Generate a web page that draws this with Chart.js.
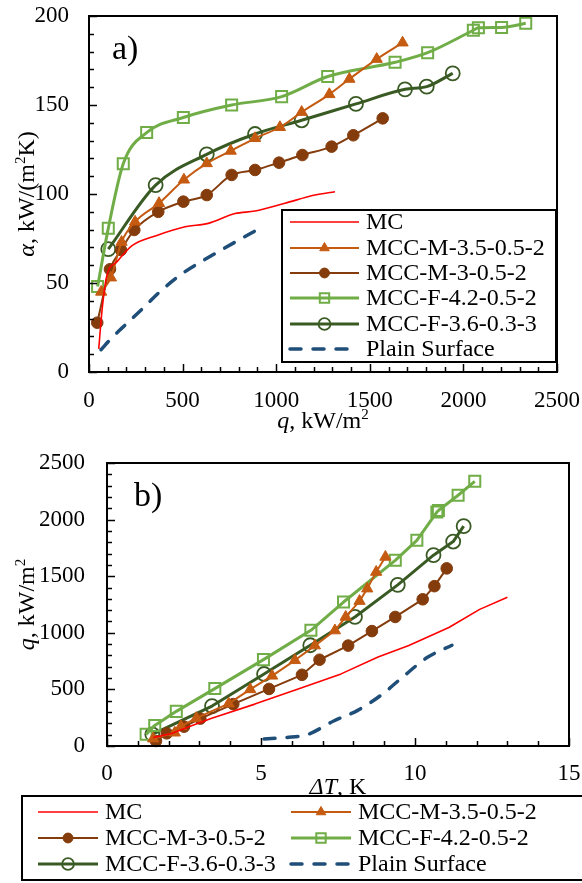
<!DOCTYPE html>
<html><head><meta charset="utf-8">
<script src="https://cdn.jsdelivr.net/npm/chart.js@4.4.1/dist/chart.umd.min.js"></script>
<style>
html,body{margin:0;padding:0;background:#fff;}
#wrap{position:relative;width:582px;height:883px;overflow:hidden;background:#fff;}
.box{position:absolute;left:0;width:582px;}
</style></head><body>
<div id="wrap">
<div class="box" style="top:0;height:440px"><canvas id="ca" width="582" height="440"></canvas></div>
<div class="box" style="top:440px;height:443px"><canvas id="cb" width="582" height="443"></canvas></div>
</div>
<script>
// ---------- series names ----------
const seriesNames = ['MC','MCC-M-3.5-0.5-2','MCC-M-3-0.5-2','MCC-F-4.2-0.5-2','MCC-F-3.6-0.3-3','Plain Surface'];

// ---------- chart a) : alpha [kW/(m2K)] vs q [kW/m2] ----------
const aTicksX = [0,500,1000,1500,2000,2500];
const aTicksY = [0,50,100,150,200];
const mcA_q      = [52,70,95,150,230,370,513,637,780,887,1047,1207,1314];
const mcA_alpha  = [13,35,54,62,71,77,81.6,83.5,89,90.4,94.8,99.4,101.3];
const m35A_q     = [65,117,174,246,374,507,629,757,887,1020,1136,1284,1391,1537,1675];
const m35A_alpha = [45,53,73,84.4,94.8,108,117.2,124.2,131.3,137.5,146,156,164.6,175.8,185];
const m3A_q      = [44,112,171,242,370,504,629,762,887,1015,1140,1296,1412,1569];
const m3A_alpha  = [27.7,57.7,68.5,79.8,90,95.7,99.4,110.7,113.5,117.6,121.9,126.6,133,142.5];
const f42A_q     = [46,103,183,308,504,762,1029,1275,1635,1809,2053,2080,2204,2333];
const f42A_alpha = [48,80.7,117,134.5,143,150,154.7,166,174,179.4,192,193.4,193.6,195.9];
const f36A_q     = [103,356,629,887,1136,1426,1688,1804,1943];
const f36A_alpha = [69,105,122.3,133.7,141.4,150.6,158.8,160.3,167.8];
const plainA_q     = [64,120,174,280,388,513,600,691,815,890];
const plainA_alpha = [12.5,19,24.5,35,46,56.4,62,67.6,75,79.4];

// ---------- chart b) : q [kW/m2] vs dT [K] ----------
const bTicksX = [0,5,10,15];
const bTicksY = [0,500,1000,1500,2000,2500];
const mcB_dT    = [1.5,2.1,2.7,3.4,4.8,6.3,7.6,8.8,9.8,11.1,12.1,13.0];
const mcB_q     = [75,110,175,246,370,513,637,786,887,1047,1207,1314];
const m35B_dT   = [1.5,2.2,2.4,2.9,3.95,4.65,5.36,6.1,6.75,7.4,7.75,8.2,8.45,8.74,9.04];
const m35B_q    = [65,117,174,246,374,500,620,757,887,1020,1140,1280,1390,1537,1670];
const m3B_dT    = [1.59,1.94,2.5,3.03,4.1,5.26,6.33,6.9,7.83,8.6,9.36,10.25,10.63,11.03];
const m3B_q     = [44,112,171,242,370,504,629,762,887,1015,1140,1296,1412,1569];
const f42B_dT   = [1.27,1.55,2.25,3.5,5.08,6.62,7.68,9.36,10.06,10.71,10.76,11.4,11.94];
const f42B_q    = [103,182,306,507,763,1022,1272,1640,1817,2067,2080,2215,2338];
const f36B_dT   = [1.47,3.41,5.1,6.6,8.05,9.44,10.6,11.24,11.58];
const f36B_q    = [103,353,636,890,1140,1423,1686,1806,1942];
const plainB_dT = [5.1,5.8,6.5,7.36,8.14,8.93,9.63,10.39,11.2];
const plainB_q  = [62,75,100,221,315,456,616,781,890];

// ---------- styles ----------
const FONT = '"Liberation Serif","Times New Roman",serif';
const styles = [
  {color:'#FF0000', width:1.6, point:'none'},
  {color:'#C55A11', width:2,   point:'triangle', r:6.5, fill:true, bw:1},
  {color:'#843C0C', width:2,   point:'circle',   r:5.8, fill:true, bw:1},
  {color:'#70AD47', width:3,   point:'rect',     r:7.8, fill:false, bw:2},
  {color:'#3A5A24', width:3,   point:'circle',   r:7,   fill:false, bw:1.8},
  {color:'#1F4E79', width:3.5, point:'none', dash:[11,12]}
];

function ds(i, xs, ys, smooth) {
  const s = styles[i];
  return {
    label: seriesNames[i],
    data: xs.map((x,k)=>({x:x, y:ys[k]})),
    borderColor: s.color, backgroundColor: s.color, borderWidth: s.width,
    borderDash: s.dash || [], borderCapStyle: s.dash ? 'round' : 'butt',
    pointStyle: s.point === 'none' ? false : s.point,
    pointRadius: s.point === 'none' ? 0 : s.r,
    pointBackgroundColor: s.fill ? s.color : 'rgba(0,0,0,0)',
    pointBorderColor: s.color,
    pointBorderWidth: s.bw || 1,
    tension: smooth ? 0.4 : 0,
    cubicInterpolationMode: smooth ? 'monotone' : 'default',
    fill: false, clip: false
  };
}

function marker(ctx, s, x, y, scale) {
  if (s.point === 'none') return;
  const r = s.r * (scale || 1);
  ctx.save();
  ctx.beginPath();
  if (s.point === 'circle') ctx.arc(x, y, r, 0, Math.PI*2);
  else if (s.point === 'rect') { const h = r*Math.SQRT1_2; ctx.rect(x-h, y-h, 2*h, 2*h); }
  else if (s.point === 'triangle') {
    const a = 2*Math.PI/3;
    ctx.moveTo(x, y-r);
    ctx.lineTo(x + r*Math.sin(a), y - r*Math.cos(a));
    ctx.lineTo(x - r*Math.sin(a), y - r*Math.cos(a));
    ctx.closePath();
  }
  if (s.fill) { ctx.fillStyle = s.color; ctx.fill(); }
  ctx.strokeStyle = s.color; ctx.lineWidth = s.bw || 1; ctx.stroke();
  ctx.restore();
}

// rich text: segments [{t, it, sup}]
function drawRich(ctx, segs, x, y, size, rotate) {
  ctx.save();
  ctx.translate(x, y);
  if (rotate) ctx.rotate(-Math.PI/2);
  ctx.fillStyle = '#000';
  ctx.textBaseline = 'alphabetic';
  ctx.textAlign = 'left';
  const fonts = segs.map(s => (s.it ? 'italic ' : '') + (s.sup ? Math.round(size*0.62) : size) + 'px ' + FONT);
  let total = 0;
  const widths = segs.map((s,i)=>{ ctx.font = fonts[i]; const w = ctx.measureText(s.t).width; total += w; return w; });
  let cx = -total/2;
  segs.forEach((s,i)=>{
    ctx.font = fonts[i];
    ctx.fillText(s.t, cx, s.sup ? -size*0.38 : 0);
    cx += widths[i];
  });
  ctx.restore();
}

function makeDecor(cfg) {
  return {
    id: 'decor',
    afterDraw(chart) {
      const ctx = chart.ctx, a = chart.chartArea, xs = chart.scales.x, ys = chart.scales.y;
      ctx.save();
      // frame
      ctx.strokeStyle = '#000'; ctx.lineWidth = 2;
      ctx.strokeRect(a.left, a.top, a.right - a.left, a.bottom - a.top);
      // inward ticks
      ctx.lineWidth = 1.5;
      const nx = Math.round((xs.max - xs.min)/cfg.xMinor);
      for (let k = 0; k <= nx; k++) {
        const v = xs.min + k*cfg.xMinor;
        const px = Math.round(xs.getPixelForValue(v)) + 0.5;
        const major = Math.abs(v/cfg.xMajor - Math.round(v/cfg.xMajor)) < 1e-6;
        const len = major ? 8 : 5;
        ctx.beginPath(); ctx.moveTo(px, a.bottom); ctx.lineTo(px, a.bottom - len); ctx.stroke();
      }
      const ny = Math.round((ys.max - ys.min)/cfg.yMinor);
      for (let k = 0; k <= ny; k++) {
        const v = ys.min + k*cfg.yMinor;
        const py = Math.round(ys.getPixelForValue(v)) + 0.5;
        const major = Math.abs(v/cfg.yMajor - Math.round(v/cfg.yMajor)) < 1e-6;
        const len = major ? 8 : 5;
        ctx.beginPath(); ctx.moveTo(a.left, py); ctx.lineTo(a.left + len, py); ctx.stroke();
      }
      // panel label
      ctx.fillStyle = '#000';
      ctx.font = '34px ' + FONT;
      ctx.textBaseline = 'alphabetic'; ctx.textAlign = 'left';
      ctx.fillText(cfg.panel.t, cfg.panel.x, cfg.panel.y);
      // axis titles
      drawRich(ctx, cfg.xTitle, (a.left + a.right)/2 + (cfg.xTitleDx||0), cfg.xTitleY, 24, false);
      drawRich(ctx, cfg.yTitle, cfg.yTitleX, (a.top + a.bottom)/2, 24, true);
      // legend
      const L = cfg.legend;
      ctx.fillStyle = '#fff';
      ctx.fillRect(L.x, L.y, L.w, L.h);
      ctx.strokeStyle = '#000'; ctx.lineWidth = 2;
      ctx.strokeRect(L.x, L.y, L.w, L.h);
      chart.data.datasets.forEach((d, i) => {
        const it = L.items[i], s = styles[i];
        ctx.save();
        ctx.strokeStyle = s.color; ctx.lineWidth = s.width;
        ctx.setLineDash(s.dash || []);
        ctx.lineCap = s.dash ? 'round' : 'butt';
        ctx.beginPath(); ctx.moveTo(it.x, it.y); ctx.lineTo(it.x + L.sw, it.y); ctx.stroke();
        ctx.restore();
        marker(ctx, s, it.x + L.sw/2, it.y, 0.85);
        ctx.fillStyle = '#000';
        ctx.font = L.font + 'px ' + FONT;
        ctx.textBaseline = 'middle'; ctx.textAlign = 'left';
        ctx.fillText(d.label, it.x + L.sw + L.gap, it.y + 1);
      });
      ctx.restore();
    }
  };
}

function zeroPad(s) { s.paddingLeft = 0; s.paddingRight = 0; s.paddingTop = 0; s.paddingBottom = 0; }

function options(c) {
  return {
    responsive: false, animation: false,
    layout: {padding: {top: c.padTop, right: c.padRight, left: 0, bottom: 0}},
    plugins: {legend: {display: false}, tooltip: {enabled: false}, title: {display: false}},
    elements: {line: {borderJoinStyle: 'round'}},
    scales: {
      x: {
        type: 'linear', min: c.xMin, max: c.xMax,
        afterBuildTicks: (s) => { s.ticks = c.xTicks.map(v => ({value: v})); },
        ticks: {color: '#000', font: {family: FONT, size: c.tickSize}, padding: c.xPad, maxRotation: 0, autoSkip: false,
          callback: (v) => String(v)},
        grid: {display: false, drawTicks: false},
        border: {display: false},
        afterFit: (s) => { s.height = c.xH; zeroPad(s); }
      },
      y: {
        type: 'linear', min: c.yMin, max: c.yMax,
        afterBuildTicks: (s) => { s.ticks = c.yTicks.map(v => ({value: v})); },
        ticks: {color: '#000', font: {family: FONT, size: c.tickSize}, padding: c.yPad, autoSkip: false,
          callback: (v) => String(v)},
        grid: {display: false, drawTicks: false},
        border: {display: false},
        afterFit: (s) => { s.width = c.yW; zeroPad(s); }
      }
    }
  };
}

// ----- chart a -----
new Chart(document.getElementById('ca'), {
  type: 'line',
  data: {datasets: [
    ds(0, mcA_q, mcA_alpha, true),
    ds(1, m35A_q, m35A_alpha, true),
    ds(2, m3A_q, m3A_alpha, true),
    ds(3, f42A_q, f42A_alpha, true),
    ds(4, f36A_q, f36A_alpha, true),
    ds(5, plainA_q, plainA_alpha, true)
  ]},
  options: options({padTop: 16, padRight: 25, xMin: 0, xMax: 2500, yMin: 0, yMax: 200,
    xTicks: aTicksX, yTicks: aTicksY, tickSize: 23, xPad: 15, yPad: 20, xH: 68, yW: 89}),
  plugins: [makeDecor({
    xMinor: 100, xMajor: 500, yMinor: 10, yMajor: 50,
    panel: {t: 'a)', x: 112, y: 59},
    xTitle: [{t: 'q', it: true}, {t: ', kW/m'}, {t: '2', sup: true}], xTitleY: 428,
    yTitle: [{t: 'α', it: true}, {t: ', kW/(m'}, {t: '2', sup: true}, {t: 'K)'}], yTitleX: 34,
    legend: {x: 282, y: 210, w: 274, h: 152, sw: 69, gap: 7, font: 24,
      items: [{x: 290, y: 222}, {x: 290, y: 248}, {x: 290, y: 273}, {x: 290, y: 298}, {x: 290, y: 324}, {x: 290, y: 349}]}
  })]
});

// ----- chart b -----
new Chart(document.getElementById('cb'), {
  type: 'line',
  data: {datasets: [
    ds(0, mcB_dT, mcB_q, false),
    ds(1, m35B_dT, m35B_q, false),
    ds(2, m3B_dT, m3B_q, false),
    ds(3, f42B_dT, f42B_q, false),
    ds(4, f36B_dT, f36B_q, false),
    ds(5, plainB_dT, plainB_q, true)
  ]},
  options: options({padTop: 23, padRight: 13, xMin: 0, xMax: 15, yMin: 0, yMax: 2500,
    xTicks: bTicksX, yTicks: bTicksY, tickSize: 23, xPad: 14, yPad: 22, xH: 137, yW: 107}),
  plugins: [makeDecor({
    xMinor: 1, xMajor: 5, yMinor: 100, yMajor: 500,
    panel: {t: 'b)', x: 134, y: 66},
    xTitle: [{t: 'ΔT', it: true}, {t: ', K'}], xTitleY: 354,
    yTitle: [{t: 'q', it: true}, {t: ', kW/m'}, {t: '2', sup: true}], yTitleX: 34,
    legend: {x: 22, y: 356, w: 580, h: 84, sw: 60, gap: 7, font: 24,
      items: [{x: 38, y: 372}, {x: 291, y: 372}, {x: 38, y: 398}, {x: 291, y: 398}, {x: 38, y: 424}, {x: 291, y: 424}]}
  })]
});
</script>
</body></html>
